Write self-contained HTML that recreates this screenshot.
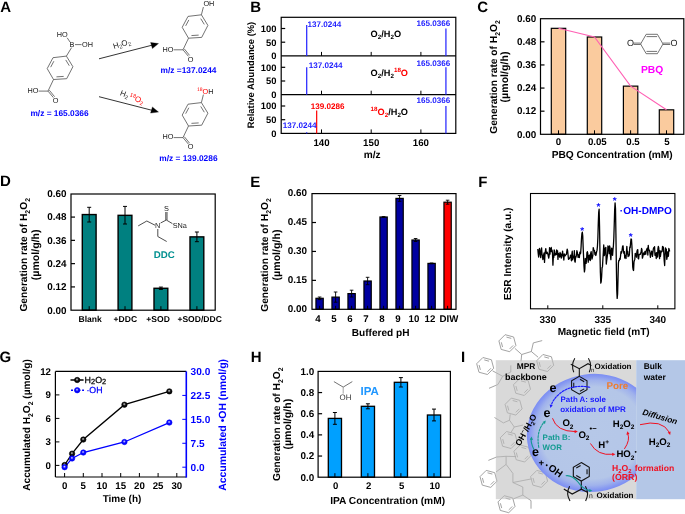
<!DOCTYPE html>
<html><head><meta charset="utf-8"><style>
html,body{margin:0;padding:0;background:#fff;}
svg{display:block;will-change:transform;}
text{font-family:"Liberation Sans", sans-serif;text-rendering:geometricPrecision;}
</style></head><body>
<svg width="685" height="514" viewBox="0 0 685 514" font-family='"Liberation Sans", sans-serif'>
<rect width="685" height="514" fill="#fff"/>
<defs><radialGradient id="gb" cx="0.5" cy="0.45" r="0.55" fx="0.45" fy="0.38"><stop offset="0" stop-color="#e8e8e8"/><stop offset="0.22" stop-color="#808080"/><stop offset="0.5" stop-color="#111"/><stop offset="1" stop-color="#000"/></radialGradient><radialGradient id="gbl" cx="0.5" cy="0.45" r="0.55" fx="0.45" fy="0.38"><stop offset="0" stop-color="#e8e8ff"/><stop offset="0.22" stop-color="#8080ff"/><stop offset="0.5" stop-color="#0c0cff"/><stop offset="1" stop-color="#0000f0"/></radialGradient><radialGradient id="rgI" cx="0.5" cy="0.5" r="0.5"><stop offset="0" stop-color="#b6c8e8"/><stop offset="0.78" stop-color="#b4c6e8"/><stop offset="0.89" stop-color="#a0b2ec"/><stop offset="0.96" stop-color="#8799f1"/><stop offset="1" stop-color="#7b8df4"/></radialGradient><clipPath id="clipI"><rect x="495.8" y="360.2" width="140.4" height="139.0"/></clipPath><clipPath id="clipE"><rect x="0" y="0" width="458.5" height="514"/></clipPath></defs>
<text transform="translate(0.20 12.20) scale(1 1.0)" font-size="15" font-weight="bold" fill="#000" text-anchor="start" >A</text>
<path d="M66.40,56.10 L72.90,66.70 L66.70,78.70 L53.50,79.50 L47.20,68.60 L53.00,57.70 Z" stroke="#444" stroke-width="0.75" fill="none" />
<line x1="65.74" y1="59.93" x2="69.29" y2="65.72" stroke="#444" stroke-width="0.75" />
<line x1="63.67" y1="76.41" x2="56.46" y2="76.85" stroke="#444" stroke-width="0.75" />
<line x1="50.68" y1="67.17" x2="53.85" y2="61.22" stroke="#444" stroke-width="0.75" />
<line x1="53.50" y1="79.50" x2="48.00" y2="91.10" stroke="#444" stroke-width="0.75" />
<line x1="48.00" y1="91.10" x2="38.60" y2="91.10" stroke="#444" stroke-width="0.75" />
<text transform="translate(27.60 92.80) scale(1 1.0)" font-size="7.3" font-weight="normal" fill="#222" text-anchor="start" >HO</text>
<line x1="48.00" y1="91.10" x2="53.40" y2="97.60" stroke="#444" stroke-width="0.75" />
<line x1="49.30" y1="90.20" x2="54.60" y2="96.70" stroke="#444" stroke-width="0.75" />
<text transform="translate(52.80 102.90) scale(1 1.0)" font-size="7.3" font-weight="normal" fill="#222" text-anchor="start" >O</text>
<line x1="66.40" y1="56.10" x2="71.60" y2="47.60" stroke="#444" stroke-width="0.75" />
<text transform="translate(69.40 47.30) scale(1 1.0)" font-size="7.3" font-weight="normal" fill="#222" text-anchor="start" >B</text>
<line x1="70.00" y1="42.00" x2="67.20" y2="37.80" stroke="#444" stroke-width="0.75" />
<text transform="translate(56.80 36.90) scale(1 1.0)" font-size="7.3" font-weight="normal" fill="#222" text-anchor="start" >HO</text>
<line x1="75.00" y1="44.60" x2="81.60" y2="44.60" stroke="#444" stroke-width="0.75" />
<text transform="translate(82.00 47.30) scale(1 1.0)" font-size="7.3" font-weight="normal" fill="#222" text-anchor="start" >OH</text>
<text transform="translate(30.40 116.00) scale(1 1.0)" font-size="8.35" font-weight="bold" fill="#00f" text-anchor="start" >m/z = 165.0366</text>
<path d="M201.40,14.80 L207.90,25.40 L201.70,37.40 L188.50,38.20 L182.20,27.30 L188.00,16.40 Z" stroke="#444" stroke-width="0.75" fill="none" />
<line x1="200.74" y1="18.63" x2="204.29" y2="24.42" stroke="#444" stroke-width="0.75" />
<line x1="198.67" y1="35.11" x2="191.46" y2="35.55" stroke="#444" stroke-width="0.75" />
<line x1="185.68" y1="25.87" x2="188.85" y2="19.92" stroke="#444" stroke-width="0.75" />
<line x1="188.50" y1="38.20" x2="183.00" y2="49.80" stroke="#444" stroke-width="0.75" />
<line x1="183.00" y1="49.80" x2="173.60" y2="49.80" stroke="#444" stroke-width="0.75" />
<text transform="translate(162.60 51.50) scale(1 1.0)" font-size="7.3" font-weight="normal" fill="#222" text-anchor="start" >HO</text>
<line x1="183.00" y1="49.80" x2="188.40" y2="56.30" stroke="#444" stroke-width="0.75" />
<line x1="184.30" y1="48.90" x2="189.60" y2="55.40" stroke="#444" stroke-width="0.75" />
<text transform="translate(187.80 61.60) scale(1 1.0)" font-size="7.3" font-weight="normal" fill="#222" text-anchor="start" >O</text>
<line x1="201.40" y1="14.80" x2="203.40" y2="7.00" stroke="#444" stroke-width="0.75" />
<text transform="translate(203.40 5.60) scale(1 1.0)" font-size="7.3" font-weight="normal" fill="#222" text-anchor="start" >OH</text>
<text transform="translate(160.60 72.90) scale(1 1.0)" font-size="8.35" font-weight="bold" fill="#00f" text-anchor="start" >m/z =137.0244</text>
<path d="M201.40,102.60 L207.90,113.20 L201.70,125.20 L188.50,126.00 L182.20,115.10 L188.00,104.20 Z" stroke="#444" stroke-width="0.75" fill="none" />
<line x1="200.74" y1="106.43" x2="204.29" y2="112.22" stroke="#444" stroke-width="0.75" />
<line x1="198.67" y1="122.91" x2="191.46" y2="123.35" stroke="#444" stroke-width="0.75" />
<line x1="185.68" y1="113.67" x2="188.85" y2="107.72" stroke="#444" stroke-width="0.75" />
<line x1="188.50" y1="126.00" x2="183.00" y2="137.60" stroke="#444" stroke-width="0.75" />
<line x1="183.00" y1="137.60" x2="173.60" y2="137.60" stroke="#444" stroke-width="0.75" />
<text transform="translate(162.60 139.30) scale(1 1.0)" font-size="7.3" font-weight="normal" fill="#222" text-anchor="start" >HO</text>
<line x1="183.00" y1="137.60" x2="188.40" y2="144.10" stroke="#444" stroke-width="0.75" />
<line x1="184.30" y1="136.70" x2="189.60" y2="143.20" stroke="#444" stroke-width="0.75" />
<text transform="translate(187.80 149.40) scale(1 1.0)" font-size="7.3" font-weight="normal" fill="#222" text-anchor="start" >O</text>
<line x1="201.40" y1="102.60" x2="203.40" y2="94.60" stroke="#444" stroke-width="0.75" />
<text x="196.9" y="93.9" font-size="7.3" fill="#222" font-family='"Liberation Sans", sans-serif'><tspan fill="#f00" font-size="5" dy="-3">18</tspan><tspan fill="#f00" dy="3">O</tspan><tspan>H</tspan></text>
<text transform="translate(159.30 161.00) scale(1 1.0)" font-size="8.35" font-weight="bold" fill="#00f" text-anchor="start" >m/z = 139.0286</text>
<line x1="99.00" y1="58.80" x2="152.00" y2="45.20" stroke="#000" stroke-width="0.8" />
<path d="M158.5,43.6 L150.6,42.4 L152.4,48.6 Z" stroke="#000" stroke-width="0.3" fill="#000" />
<line x1="99.00" y1="96.70" x2="152.00" y2="110.30" stroke="#000" stroke-width="0.8" />
<path d="M158.5,112.0 L152.4,106.9 L150.6,113.1 Z" stroke="#000" stroke-width="0.3" fill="#000" />
<text transform="translate(114.0,49.0) rotate(-17)" font-size="7.9" fill="#222">H<tspan font-size="5.4" dy="1.6">2</tspan><tspan dy="-1.6">O</tspan><tspan font-size="5.4" dy="1.6">2</tspan></text>
<text transform="translate(119.4,95.0) rotate(21)" font-size="7.9" fill="#222">H<tspan font-size="5.4" dy="1.6">2</tspan><tspan dy="-1.6" font-size="4"> </tspan><tspan font-size="5.4" dy="-2.8" fill="#f00">18</tspan><tspan dy="2.8" fill="#f00">O</tspan><tspan font-size="5.4" dy="1.6" fill="#f00">2</tspan></text>
<text transform="translate(250.20 11.70) scale(1 1.0)" font-size="15" font-weight="bold" fill="#000" text-anchor="start" >B</text>
<rect x="281.20" y="17.30" width="174.60" height="116.10" fill="none" stroke="#000" stroke-width="1.2" />
<line x1="281.20" y1="55.90" x2="455.80" y2="55.90" stroke="#000" stroke-width="1.2" />
<line x1="281.20" y1="94.70" x2="455.80" y2="94.70" stroke="#000" stroke-width="1.2" />
<text transform="translate(276.40 59.30) scale(1 1.0)" font-size="9.4" font-weight="bold" fill="#000" text-anchor="end" >0</text>
<line x1="281.20" y1="42.20" x2="285.20" y2="42.20" stroke="#000" stroke-width="1.2" />
<text transform="translate(276.40 45.60) scale(1 1.0)" font-size="9.4" font-weight="bold" fill="#000" text-anchor="end" >50</text>
<line x1="281.20" y1="28.50" x2="285.20" y2="28.50" stroke="#000" stroke-width="1.2" />
<text transform="translate(276.40 31.90) scale(1 1.0)" font-size="9.4" font-weight="bold" fill="#000" text-anchor="end" >100</text>
<line x1="321.50" y1="55.90" x2="321.50" y2="51.90" stroke="#000" stroke-width="1.0" />
<line x1="371.20" y1="55.90" x2="371.20" y2="51.90" stroke="#000" stroke-width="1.0" />
<line x1="420.90" y1="55.90" x2="420.90" y2="51.90" stroke="#000" stroke-width="1.0" />
<text transform="translate(276.40 98.10) scale(1 1.0)" font-size="9.4" font-weight="bold" fill="#000" text-anchor="end" >0</text>
<line x1="281.20" y1="81.00" x2="285.20" y2="81.00" stroke="#000" stroke-width="1.2" />
<text transform="translate(276.40 84.40) scale(1 1.0)" font-size="9.4" font-weight="bold" fill="#000" text-anchor="end" >50</text>
<line x1="281.20" y1="67.30" x2="285.20" y2="67.30" stroke="#000" stroke-width="1.2" />
<text transform="translate(276.40 70.70) scale(1 1.0)" font-size="9.4" font-weight="bold" fill="#000" text-anchor="end" >100</text>
<line x1="321.50" y1="94.70" x2="321.50" y2="90.70" stroke="#000" stroke-width="1.0" />
<line x1="371.20" y1="94.70" x2="371.20" y2="90.70" stroke="#000" stroke-width="1.0" />
<line x1="420.90" y1="94.70" x2="420.90" y2="90.70" stroke="#000" stroke-width="1.0" />
<text transform="translate(276.40 136.80) scale(1 1.0)" font-size="9.4" font-weight="bold" fill="#000" text-anchor="end" >0</text>
<line x1="281.20" y1="119.70" x2="285.20" y2="119.70" stroke="#000" stroke-width="1.2" />
<text transform="translate(276.40 123.10) scale(1 1.0)" font-size="9.4" font-weight="bold" fill="#000" text-anchor="end" >50</text>
<line x1="281.20" y1="106.00" x2="285.20" y2="106.00" stroke="#000" stroke-width="1.2" />
<text transform="translate(276.40 109.40) scale(1 1.0)" font-size="9.4" font-weight="bold" fill="#000" text-anchor="end" >100</text>
<line x1="321.50" y1="133.40" x2="321.50" y2="129.40" stroke="#000" stroke-width="1.0" />
<line x1="371.20" y1="133.40" x2="371.20" y2="129.40" stroke="#000" stroke-width="1.0" />
<line x1="420.90" y1="133.40" x2="420.90" y2="129.40" stroke="#000" stroke-width="1.0" />
<text transform="translate(321.50 146.20) scale(1 1.0)" font-size="9.7" font-weight="bold" fill="#000" text-anchor="middle" >140</text>
<text transform="translate(371.20 146.20) scale(1 1.0)" font-size="9.7" font-weight="bold" fill="#000" text-anchor="middle" >150</text>
<text transform="translate(420.90 146.20) scale(1 1.0)" font-size="9.7" font-weight="bold" fill="#000" text-anchor="middle" >160</text>
<text transform="translate(372.20 158.30) scale(1 1.0)" font-size="10.1" font-weight="bold" fill="#000" text-anchor="middle" >m/z</text>
<text transform="translate(253.60 75.00) rotate(-90) scale(1 1.0)" font-size="9.4" font-weight="bold" fill="#000" text-anchor="middle" >Relative Abundance (%)</text>
<line x1="306.71" y1="55.90" x2="306.71" y2="25.00" stroke="#1f1fff" stroke-width="1.2" />
<line x1="306.71" y1="94.70" x2="306.71" y2="67.30" stroke="#1f1fff" stroke-width="1.2" />
<line x1="306.71" y1="133.40" x2="306.71" y2="132.30" stroke="#1f1fff" stroke-width="1.2" />
<line x1="316.67" y1="133.40" x2="316.67" y2="110.38" stroke="#f00" stroke-width="1.2" />
<line x1="445.93" y1="55.90" x2="445.93" y2="28.50" stroke="#1f1fff" stroke-width="1.2" />
<line x1="445.93" y1="94.70" x2="445.93" y2="67.30" stroke="#1f1fff" stroke-width="1.2" />
<line x1="445.93" y1="133.40" x2="445.93" y2="106.00" stroke="#1f1fff" stroke-width="1.2" />
<text transform="translate(307.40 26.60) scale(1 1.0)" font-size="8.1" font-weight="bold" fill="#1f1fff" text-anchor="start" >137.0244</text>
<text transform="translate(308.70 67.60) scale(1 1.0)" font-size="8.1" font-weight="bold" fill="#1f1fff" text-anchor="start" >137.0244</text>
<text transform="translate(282.80 128.10) scale(1 1.0)" font-size="8.1" font-weight="bold" fill="#1f1fff" text-anchor="start" >137.0244</text>
<text transform="translate(416.50 26.10) scale(1 1.0)" font-size="8.1" font-weight="bold" fill="#1f1fff" text-anchor="start" >165.0366</text>
<text transform="translate(416.50 65.90) scale(1 1.0)" font-size="8.1" font-weight="bold" fill="#1f1fff" text-anchor="start" >165.0366</text>
<text transform="translate(416.50 102.60) scale(1 1.0)" font-size="8.1" font-weight="bold" fill="#1f1fff" text-anchor="start" >165.0366</text>
<text transform="translate(310.80 108.80) scale(1 1.0)" font-size="8.1" font-weight="bold" fill="#f00" text-anchor="start" >139.0286</text>
<text transform="translate(370.60 36.90) scale(1 1.0)" font-size="9.2" font-weight="bold" fill="#000" text-anchor="start" >O<tspan font-size="6.26" dy="2.30">2</tspan><tspan dy="-2.30">​</tspan>/H<tspan font-size="6.26" dy="2.30">2</tspan><tspan dy="-2.30">​</tspan>O</text>
<text transform="translate(370.60 75.70) scale(1 1.0)" font-size="9.2" font-weight="bold" fill="#000" text-anchor="start" >O<tspan font-size="6.26" dy="2.30">2</tspan><tspan dy="-2.30">​</tspan>/H<tspan font-size="6.26" dy="2.30">2</tspan><tspan dy="-2.30">​</tspan><tspan fill="#f00"><tspan font-size="6.26" dy="-3.50">18</tspan><tspan dy="3.50">​</tspan>O</tspan></text>
<text transform="translate(370.60 114.60) scale(1 1.0)" font-size="9.2" font-weight="bold" fill="#000" text-anchor="start" ><tspan fill="#f00"><tspan font-size="6.26" dy="-3.50">18</tspan><tspan dy="3.50">​</tspan>O<tspan font-size="6.26" dy="2.30">2</tspan><tspan dy="-2.30">​</tspan></tspan>/H<tspan font-size="6.26" dy="2.30">2</tspan><tspan dy="-2.30">​</tspan>O</text>
<text transform="translate(477.20 11.80) scale(1 1.0)" font-size="15" font-weight="bold" fill="#000" text-anchor="start" >C</text>
<rect x="551.30" y="28.33" width="14.40" height="105.97" fill="#facb9e" stroke="#000" stroke-width="1.2" />
<line x1="558.50" y1="134.30" x2="558.50" y2="130.30" stroke="#000" stroke-width="1.0" />
<rect x="587.30" y="37.00" width="14.40" height="97.30" fill="#facb9e" stroke="#000" stroke-width="1.2" />
<line x1="594.50" y1="134.30" x2="594.50" y2="130.30" stroke="#000" stroke-width="1.0" />
<rect x="623.40" y="86.13" width="14.40" height="48.17" fill="#facb9e" stroke="#000" stroke-width="1.2" />
<line x1="630.60" y1="134.30" x2="630.60" y2="130.30" stroke="#000" stroke-width="1.0" />
<rect x="659.30" y="109.83" width="14.40" height="24.47" fill="#facb9e" stroke="#000" stroke-width="1.2" />
<line x1="666.50" y1="134.30" x2="666.50" y2="130.30" stroke="#000" stroke-width="1.0" />
<rect x="540.50" y="18.70" width="143.30" height="115.60" fill="none" stroke="#000" stroke-width="1.2" />
<text transform="translate(536.20 137.60) scale(1 1.0)" font-size="9.9" font-weight="bold" fill="#000" text-anchor="end" >0.00</text>
<line x1="540.50" y1="111.18" x2="544.50" y2="111.18" stroke="#000" stroke-width="1.2" />
<text transform="translate(536.20 114.48) scale(1 1.0)" font-size="9.9" font-weight="bold" fill="#000" text-anchor="end" >0.12</text>
<line x1="540.50" y1="88.06" x2="544.50" y2="88.06" stroke="#000" stroke-width="1.2" />
<text transform="translate(536.20 91.36) scale(1 1.0)" font-size="9.9" font-weight="bold" fill="#000" text-anchor="end" >0.24</text>
<line x1="540.50" y1="64.94" x2="544.50" y2="64.94" stroke="#000" stroke-width="1.2" />
<text transform="translate(536.20 68.24) scale(1 1.0)" font-size="9.9" font-weight="bold" fill="#000" text-anchor="end" >0.36</text>
<line x1="540.50" y1="41.82" x2="544.50" y2="41.82" stroke="#000" stroke-width="1.2" />
<text transform="translate(536.20 45.12) scale(1 1.0)" font-size="9.9" font-weight="bold" fill="#000" text-anchor="end" >0.48</text>
<text transform="translate(536.20 22.00) scale(1 1.0)" font-size="9.9" font-weight="bold" fill="#000" text-anchor="end" >0.60</text>
<polyline points="558.5,28.3 594.5,37.0 630.6,86.1 666.5,109.8" fill="none" stroke="#ff60b4" stroke-width="1.1"/>
<text transform="translate(558.50 144.90) scale(1 1.0)" font-size="9.7" font-weight="bold" fill="#000" text-anchor="middle" >0</text>
<text transform="translate(597.30 144.90) scale(1 1.0)" font-size="9.7" font-weight="bold" fill="#000" text-anchor="middle" >0.05</text>
<text transform="translate(633.00 144.90) scale(1 1.0)" font-size="9.7" font-weight="bold" fill="#000" text-anchor="middle" >0.5</text>
<text transform="translate(666.90 144.90) scale(1 1.0)" font-size="9.7" font-weight="bold" fill="#000" text-anchor="middle" >5</text>
<text transform="translate(612.20 158.00) scale(1 1.0)" font-size="10.2" font-weight="bold" fill="#000" text-anchor="middle" >PBQ Concentration (mM)</text>
<text transform="translate(497.20 77.00) rotate(-90) scale(1 1.0)" font-size="10.2" font-weight="bold" fill="#000" text-anchor="middle" >Generation rate of H<tspan font-size="6.94" dy="2.55">2</tspan><tspan dy="-2.55">​</tspan>O<tspan font-size="6.94" dy="2.55">2</tspan><tspan dy="-2.55">​</tspan></text>
<text transform="translate(508.40 77.00) rotate(-90) scale(1 1.0)" font-size="10.6" font-weight="bold" fill="#000" text-anchor="middle" >(µmol/g/h)</text>
<path d="M663.00,44.00 L657.40,53.70 L646.20,53.70 L640.60,44.00 L646.20,34.30 L657.40,34.30 Z" stroke="#444" stroke-width="0.75" fill="none" />
<line x1="646.50" y1="36.60" x2="657.10" y2="36.60" stroke="#444" stroke-width="0.75" />
<line x1="646.50" y1="51.40" x2="657.10" y2="51.40" stroke="#444" stroke-width="0.75" />
<line x1="640.60" y1="43.10" x2="633.60" y2="43.10" stroke="#444" stroke-width="0.75" />
<line x1="640.60" y1="44.50" x2="633.60" y2="44.50" stroke="#444" stroke-width="0.75" />
<line x1="663.00" y1="43.10" x2="670.20" y2="43.10" stroke="#444" stroke-width="0.75" />
<line x1="663.00" y1="44.50" x2="670.20" y2="44.50" stroke="#444" stroke-width="0.75" />
<text transform="translate(627.00 46.40) scale(1 1.0)" font-size="9.0" font-weight="normal" fill="#222" text-anchor="start" >O</text>
<text transform="translate(670.40 46.40) scale(1 1.0)" font-size="9.0" font-weight="normal" fill="#222" text-anchor="start" >O</text>
<text transform="translate(641.00 72.80) scale(1 1.0)" font-size="10.3" font-weight="bold" fill="#f0f" text-anchor="start" >PBQ</text>
<text transform="translate(-0.10 186.40) scale(1 1.0)" font-size="15" font-weight="bold" fill="#000" text-anchor="start" >D</text>
<rect x="82.30" y="214.56" width="13.80" height="95.64" fill="#008080" stroke="#000" stroke-width="1.4" />
<line x1="89.20" y1="310.20" x2="89.20" y2="306.20" stroke="#000" stroke-width="1.0" />
<line x1="89.20" y1="207.30" x2="89.20" y2="222.00" stroke="#000" stroke-width="1.0" />
<line x1="87.20" y1="207.30" x2="91.20" y2="207.30" stroke="#000" stroke-width="1.0" />
<line x1="87.20" y1="222.00" x2="91.20" y2="222.00" stroke="#000" stroke-width="1.0" />
<rect x="118.10" y="215.33" width="13.80" height="94.87" fill="#008080" stroke="#000" stroke-width="1.4" />
<line x1="125.00" y1="310.20" x2="125.00" y2="306.20" stroke="#000" stroke-width="1.0" />
<line x1="125.00" y1="206.40" x2="125.00" y2="224.00" stroke="#000" stroke-width="1.0" />
<line x1="123.00" y1="206.40" x2="127.00" y2="206.40" stroke="#000" stroke-width="1.0" />
<line x1="123.00" y1="224.00" x2="127.00" y2="224.00" stroke="#000" stroke-width="1.0" />
<rect x="154.00" y="288.28" width="13.80" height="21.92" fill="#008080" stroke="#000" stroke-width="1.4" />
<line x1="160.90" y1="310.20" x2="160.90" y2="306.20" stroke="#000" stroke-width="1.0" />
<line x1="160.90" y1="287.10" x2="160.90" y2="289.40" stroke="#000" stroke-width="1.0" />
<line x1="158.90" y1="287.10" x2="162.90" y2="287.10" stroke="#000" stroke-width="1.0" />
<line x1="158.90" y1="289.40" x2="162.90" y2="289.40" stroke="#000" stroke-width="1.0" />
<rect x="190.00" y="236.87" width="13.80" height="73.33" fill="#008080" stroke="#000" stroke-width="1.4" />
<line x1="196.90" y1="310.20" x2="196.90" y2="306.20" stroke="#000" stroke-width="1.0" />
<line x1="196.90" y1="232.00" x2="196.90" y2="241.70" stroke="#000" stroke-width="1.0" />
<line x1="194.90" y1="232.00" x2="198.90" y2="232.00" stroke="#000" stroke-width="1.0" />
<line x1="194.90" y1="241.70" x2="198.90" y2="241.70" stroke="#000" stroke-width="1.0" />
<rect x="71.00" y="194.00" width="144.20" height="116.20" fill="none" stroke="#000" stroke-width="1.2" />
<text transform="translate(66.40 313.50) scale(1 1.0)" font-size="9.9" font-weight="bold" fill="#000" text-anchor="end" >0.00</text>
<line x1="71.00" y1="286.92" x2="75.00" y2="286.92" stroke="#000" stroke-width="1.2" />
<text transform="translate(66.40 290.22) scale(1 1.0)" font-size="9.9" font-weight="bold" fill="#000" text-anchor="end" >0.12</text>
<line x1="71.00" y1="263.64" x2="75.00" y2="263.64" stroke="#000" stroke-width="1.2" />
<text transform="translate(66.40 266.94) scale(1 1.0)" font-size="9.9" font-weight="bold" fill="#000" text-anchor="end" >0.24</text>
<line x1="71.00" y1="240.36" x2="75.00" y2="240.36" stroke="#000" stroke-width="1.2" />
<text transform="translate(66.40 243.66) scale(1 1.0)" font-size="9.9" font-weight="bold" fill="#000" text-anchor="end" >0.36</text>
<line x1="71.00" y1="217.08" x2="75.00" y2="217.08" stroke="#000" stroke-width="1.2" />
<text transform="translate(66.40 220.38) scale(1 1.0)" font-size="9.9" font-weight="bold" fill="#000" text-anchor="end" >0.48</text>
<text transform="translate(66.40 197.10) scale(1 1.0)" font-size="9.9" font-weight="bold" fill="#000" text-anchor="end" >0.60</text>
<text transform="translate(90.20 322.20) scale(1 1.0)" font-size="8.55" font-weight="bold" fill="#000" text-anchor="middle" >Blank</text>
<text transform="translate(125.30 322.20) scale(1 1.0)" font-size="8.55" font-weight="bold" fill="#000" text-anchor="middle" >+DDC</text>
<text transform="translate(158.10 322.20) scale(1 1.0)" font-size="8.55" font-weight="bold" fill="#000" text-anchor="middle" >+SOD</text>
<text transform="translate(199.60 322.20) scale(1 1.0)" font-size="8.55" font-weight="bold" fill="#000" text-anchor="middle" >+SOD/DDC</text>
<text transform="translate(27.30 254.80) rotate(-90) scale(1 1.0)" font-size="10.2" font-weight="bold" fill="#000" text-anchor="middle" >Generation rate of H<tspan font-size="6.94" dy="2.55">2</tspan><tspan dy="-2.55">​</tspan>O<tspan font-size="6.94" dy="2.55">2</tspan><tspan dy="-2.55">​</tspan></text>
<text transform="translate(38.60 254.80) rotate(-90) scale(1 1.0)" font-size="10.6" font-weight="bold" fill="#000" text-anchor="middle" >(µmol/g/h)</text>
<path d="M138.2,225.9 L146.8,221.0 L155.0,225.2" stroke="#3a3a3a" stroke-width="0.9" fill="none" />
<text transform="translate(154.90 228.30) scale(1 1.0)" font-size="7.3" font-weight="normal" fill="#222" text-anchor="start" >N</text>
<path d="M160.6,223.0 L166.3,220.0 L172.4,223.6" stroke="#3a3a3a" stroke-width="0.9" fill="none" />
<line x1="165.80" y1="220.00" x2="165.80" y2="212.00" stroke="#3a3a3a" stroke-width="0.9" />
<line x1="167.00" y1="220.00" x2="167.00" y2="212.00" stroke="#3a3a3a" stroke-width="0.9" />
<text transform="translate(163.90 211.30) scale(1 1.0)" font-size="7.3" font-weight="normal" fill="#222" text-anchor="start" >S</text>
<text transform="translate(172.70 228.30) scale(1 1.0)" font-size="7.3" font-weight="normal" fill="#222" text-anchor="start" >SNa</text>
<path d="M157.8,229.0 L157.8,236.5 L166.7,241.5" stroke="#3a3a3a" stroke-width="0.9" fill="none" />
<text transform="translate(153.80 258.30) scale(1 1.0)" font-size="9.7" font-weight="bold" fill="#009090" text-anchor="start" >DDC</text>
<text transform="translate(250.30 186.80) scale(1 1.0)" font-size="15" font-weight="bold" fill="#000" text-anchor="start" >E</text>
<rect x="315.95" y="298.30" width="7.30" height="11.00" fill="#0000a0" stroke="#000" stroke-width="1.2" />
<line x1="319.60" y1="309.30" x2="319.60" y2="305.80" stroke="#000" stroke-width="1.0" />
<line x1="319.60" y1="297.00" x2="319.60" y2="299.60" stroke="#000" stroke-width="0.9" />
<line x1="317.80" y1="297.00" x2="321.40" y2="297.00" stroke="#000" stroke-width="0.9" />
<line x1="317.80" y1="299.60" x2="321.40" y2="299.60" stroke="#000" stroke-width="0.9" />
<text transform="translate(317.90 321.50) scale(1 1.0)" font-size="9.7" font-weight="bold" fill="#000" text-anchor="middle" >4</text>
<rect x="331.95" y="297.10" width="7.30" height="12.20" fill="#0000a0" stroke="#000" stroke-width="1.2" />
<line x1="335.60" y1="309.30" x2="335.60" y2="305.80" stroke="#000" stroke-width="1.0" />
<line x1="335.60" y1="292.00" x2="335.60" y2="302.20" stroke="#000" stroke-width="0.9" />
<line x1="333.80" y1="292.00" x2="337.40" y2="292.00" stroke="#000" stroke-width="0.9" />
<line x1="333.80" y1="302.20" x2="337.40" y2="302.20" stroke="#000" stroke-width="0.9" />
<text transform="translate(333.90 321.50) scale(1 1.0)" font-size="9.7" font-weight="bold" fill="#000" text-anchor="middle" >5</text>
<rect x="347.95" y="293.60" width="7.30" height="15.70" fill="#0000a0" stroke="#000" stroke-width="1.2" />
<line x1="351.60" y1="309.30" x2="351.60" y2="305.80" stroke="#000" stroke-width="1.0" />
<line x1="351.60" y1="290.20" x2="351.60" y2="297.00" stroke="#000" stroke-width="0.9" />
<line x1="349.80" y1="290.20" x2="353.40" y2="290.20" stroke="#000" stroke-width="0.9" />
<line x1="349.80" y1="297.00" x2="353.40" y2="297.00" stroke="#000" stroke-width="0.9" />
<text transform="translate(349.90 321.50) scale(1 1.0)" font-size="9.7" font-weight="bold" fill="#000" text-anchor="middle" >6</text>
<rect x="363.95" y="281.00" width="7.30" height="28.30" fill="#0000a0" stroke="#000" stroke-width="1.2" />
<line x1="367.60" y1="309.30" x2="367.60" y2="305.80" stroke="#000" stroke-width="1.0" />
<line x1="367.60" y1="277.30" x2="367.60" y2="284.70" stroke="#000" stroke-width="0.9" />
<line x1="365.80" y1="277.30" x2="369.40" y2="277.30" stroke="#000" stroke-width="0.9" />
<line x1="365.80" y1="284.70" x2="369.40" y2="284.70" stroke="#000" stroke-width="0.9" />
<text transform="translate(365.90 321.50) scale(1 1.0)" font-size="9.7" font-weight="bold" fill="#000" text-anchor="middle" >7</text>
<rect x="379.95" y="217.00" width="7.30" height="92.30" fill="#0000a0" stroke="#000" stroke-width="1.2" />
<line x1="383.60" y1="309.30" x2="383.60" y2="305.80" stroke="#000" stroke-width="1.0" />
<line x1="383.60" y1="216.60" x2="383.60" y2="217.40" stroke="#000" stroke-width="0.9" />
<line x1="381.80" y1="216.60" x2="385.40" y2="216.60" stroke="#000" stroke-width="0.9" />
<line x1="381.80" y1="217.40" x2="385.40" y2="217.40" stroke="#000" stroke-width="0.9" />
<text transform="translate(381.90 321.50) scale(1 1.0)" font-size="9.7" font-weight="bold" fill="#000" text-anchor="middle" >8</text>
<rect x="395.95" y="198.40" width="7.30" height="110.90" fill="#0000a0" stroke="#000" stroke-width="1.2" />
<line x1="399.60" y1="309.30" x2="399.60" y2="305.80" stroke="#000" stroke-width="1.0" />
<line x1="399.60" y1="195.50" x2="399.60" y2="201.30" stroke="#000" stroke-width="0.9" />
<line x1="397.80" y1="195.50" x2="401.40" y2="195.50" stroke="#000" stroke-width="0.9" />
<line x1="397.80" y1="201.30" x2="401.40" y2="201.30" stroke="#000" stroke-width="0.9" />
<text transform="translate(397.90 321.50) scale(1 1.0)" font-size="9.7" font-weight="bold" fill="#000" text-anchor="middle" >9</text>
<rect x="411.95" y="240.00" width="7.30" height="69.30" fill="#0000a0" stroke="#000" stroke-width="1.2" />
<line x1="415.60" y1="309.30" x2="415.60" y2="305.80" stroke="#000" stroke-width="1.0" />
<line x1="415.60" y1="238.50" x2="415.60" y2="241.50" stroke="#000" stroke-width="0.9" />
<line x1="413.80" y1="238.50" x2="417.40" y2="238.50" stroke="#000" stroke-width="0.9" />
<line x1="413.80" y1="241.50" x2="417.40" y2="241.50" stroke="#000" stroke-width="0.9" />
<text transform="translate(413.90 321.50) scale(1 1.0)" font-size="9.7" font-weight="bold" fill="#000" text-anchor="middle" >10</text>
<rect x="427.95" y="263.40" width="7.30" height="45.90" fill="#0000a0" stroke="#000" stroke-width="1.2" />
<line x1="431.60" y1="309.30" x2="431.60" y2="305.80" stroke="#000" stroke-width="1.0" />
<line x1="431.60" y1="263.00" x2="431.60" y2="263.80" stroke="#000" stroke-width="0.9" />
<line x1="429.80" y1="263.00" x2="433.40" y2="263.00" stroke="#000" stroke-width="0.9" />
<line x1="429.80" y1="263.80" x2="433.40" y2="263.80" stroke="#000" stroke-width="0.9" />
<text transform="translate(429.90 321.50) scale(1 1.0)" font-size="9.7" font-weight="bold" fill="#000" text-anchor="middle" >12</text>
<rect x="443.95" y="202.20" width="7.30" height="107.10" fill="#f00" stroke="#000" stroke-width="1.2" />
<line x1="447.60" y1="309.30" x2="447.60" y2="305.80" stroke="#000" stroke-width="1.0" />
<line x1="447.60" y1="200.20" x2="447.60" y2="204.20" stroke="#000" stroke-width="0.9" />
<line x1="445.80" y1="200.20" x2="449.40" y2="200.20" stroke="#000" stroke-width="0.9" />
<line x1="445.80" y1="204.20" x2="449.40" y2="204.20" stroke="#000" stroke-width="0.9" />
<g clip-path="url(#clipE)">
<text transform="translate(439.60 321.50) scale(1 1.0)" font-size="9.7" font-weight="bold" fill="#000" text-anchor="start" >DIW</text>
</g>
<rect x="312.00" y="193.60" width="144.00" height="115.70" fill="none" stroke="#000" stroke-width="1.2" />
<text transform="translate(307.00 312.10) scale(1 1.0)" font-size="9.9" font-weight="bold" fill="#000" text-anchor="end" >0.00</text>
<line x1="312.00" y1="280.37" x2="316.00" y2="280.37" stroke="#000" stroke-width="1.2" />
<text transform="translate(307.00 283.17) scale(1 1.0)" font-size="9.9" font-weight="bold" fill="#000" text-anchor="end" >0.15</text>
<line x1="312.00" y1="251.44" x2="316.00" y2="251.44" stroke="#000" stroke-width="1.2" />
<text transform="translate(307.00 254.24) scale(1 1.0)" font-size="9.9" font-weight="bold" fill="#000" text-anchor="end" >0.30</text>
<line x1="312.00" y1="222.51" x2="316.00" y2="222.51" stroke="#000" stroke-width="1.2" />
<text transform="translate(307.00 225.31) scale(1 1.0)" font-size="9.9" font-weight="bold" fill="#000" text-anchor="end" >0.45</text>
<text transform="translate(307.00 196.38) scale(1 1.0)" font-size="9.9" font-weight="bold" fill="#000" text-anchor="end" >0.60</text>
<text transform="translate(380.60 335.60) scale(1 1.0)" font-size="10.1" font-weight="bold" fill="#000" text-anchor="middle" >Buffered pH</text>
<text transform="translate(268.40 255.00) rotate(-90) scale(1 1.0)" font-size="10.2" font-weight="bold" fill="#000" text-anchor="middle" >Generation rate of H<tspan font-size="6.94" dy="2.55">2</tspan><tspan dy="-2.55">​</tspan>O<tspan font-size="6.94" dy="2.55">2</tspan><tspan dy="-2.55">​</tspan></text>
<text transform="translate(280.00 255.00) rotate(-90) scale(1 1.0)" font-size="10.6" font-weight="bold" fill="#000" text-anchor="middle" >(µmol/g/h)</text>
<text transform="translate(478.30 186.80) scale(1 1.0)" font-size="15" font-weight="bold" fill="#000" text-anchor="start" >F</text>
<line x1="547.80" y1="308.80" x2="547.80" y2="305.30" stroke="#000" stroke-width="1.0" />
<text transform="translate(547.80 322.80) scale(1 1.0)" font-size="10.0" font-weight="bold" fill="#000" text-anchor="middle" >330</text>
<line x1="602.80" y1="308.80" x2="602.80" y2="305.30" stroke="#000" stroke-width="1.0" />
<text transform="translate(602.80 322.80) scale(1 1.0)" font-size="10.0" font-weight="bold" fill="#000" text-anchor="middle" >335</text>
<line x1="657.80" y1="308.80" x2="657.80" y2="305.30" stroke="#000" stroke-width="1.0" />
<text transform="translate(657.80 322.80) scale(1 1.0)" font-size="10.0" font-weight="bold" fill="#000" text-anchor="middle" >340</text>
<rect x="530.50" y="193.50" width="144.40" height="115.30" fill="none" stroke="#000" stroke-width="1.1" />
<text transform="translate(603.70 335.20) scale(1 1.0)" font-size="10.1" font-weight="bold" fill="#000" text-anchor="middle" >Magnetic field (mT)</text>
<text transform="translate(511.00 253.90) rotate(-90) scale(1 1.0)" font-size="10.2" font-weight="bold" fill="#000" text-anchor="middle" >ESR Intensity (a.u.)</text>
<path d="M537.80,248.99 L538.22,253.44 L538.64,256.99 L539.06,252.63 L539.48,248.38 L539.90,251.66 L540.32,254.60 L540.74,257.71 L541.16,250.32 L541.58,247.82 L542.00,254.27 L542.42,255.37 L542.84,259.51 L543.26,258.77 L543.68,254.64 L544.10,252.79 L544.52,262.47 L544.94,255.08 L545.36,251.08 L545.78,248.61 L546.20,252.31 L546.62,253.59 L547.04,252.22 L547.46,252.82 L547.88,254.21 L548.30,256.14 L548.72,258.17 L549.14,255.59 L549.56,247.61 L549.98,254.19 L550.40,248.53 L550.82,251.32 L551.24,247.47 L551.66,251.63 L552.08,250.07 L552.50,253.17 L552.92,265.21 L553.34,256.77 L553.76,257.44 L554.18,249.85 L554.60,251.30 L555.02,255.15 L555.44,253.59 L555.86,254.79 L556.28,254.19 L556.70,250.01 L557.12,254.41 L557.54,250.78 L557.96,259.35 L558.38,253.37 L558.80,255.86 L559.22,254.15 L559.64,257.05 L560.06,252.33 L560.48,256.67 L560.90,253.94 L561.32,258.11 L561.74,257.06 L562.16,255.01 L562.58,251.07 L563.00,255.47 L563.42,255.71 L563.84,260.00 L564.26,254.02 L564.68,255.58 L565.10,255.88 L565.52,255.16 L565.94,254.68 L566.36,254.44 L566.78,251.56 L567.20,249.20 L567.62,250.71 L568.04,254.72 L568.46,259.24 L568.88,258.67 L569.30,258.77 L569.72,257.81 L570.14,257.24 L570.56,255.21 L570.98,256.72 L571.40,260.78 L571.82,254.43 L572.24,251.21 L572.66,259.80 L573.08,256.20 L573.50,257.74 L573.92,257.85 L574.34,250.65 L574.76,261.33 L575.18,262.16 L575.60,256.66 L576.02,257.07 L576.44,254.95 L576.86,250.73 L577.28,252.22 L577.70,254.34 L578.12,257.41 L578.54,256.84 L578.96,254.54 L579.38,257.51 L579.80,252.22 L580.22,253.95 L580.64,253.25 L581.06,247.16 L581.48,238.83 L581.90,233.71 L582.32,232.19 L582.74,235.85 L583.16,247.28 L583.58,256.80 L584.00,266.57 L584.42,271.92 L584.84,269.17 L585.26,258.52 L585.68,260.03 L586.10,263.43 L586.52,260.01 L586.94,252.45 L587.36,251.69 L587.78,253.64 L588.20,262.25 L588.62,258.27 L589.04,255.28 L589.46,259.55 L589.88,254.96 L590.30,260.56 L590.72,253.08 L591.14,251.60 L591.56,255.45 L591.98,259.13 L592.40,257.46 L592.82,255.69 L593.24,247.61 L593.66,249.17 L594.08,250.03 L594.50,250.60 L594.92,254.51 L595.34,252.65 L595.76,255.47 L596.18,253.96 L596.60,251.81 L597.02,250.43 L597.44,246.29 L597.86,238.05 L598.28,223.61 L598.70,212.28 L599.12,209.03 L599.54,225.95 L599.96,253.31 L600.38,272.39 L600.80,283.21 L601.22,281.54 L601.64,276.33 L602.06,267.83 L602.48,266.66 L602.90,258.94 L603.32,252.66 L603.74,244.92 L604.16,255.63 L604.58,254.74 L605.00,248.10 L605.42,252.44 L605.84,247.35 L606.26,264.08 L606.68,260.63 L607.10,257.63 L607.52,254.04 L607.94,245.90 L608.36,250.70 L608.78,247.02 L609.20,253.62 L609.62,245.89 L610.04,247.99 L610.46,256.01 L610.88,259.68 L611.30,251.39 L611.72,248.07 L612.14,254.31 L612.56,255.38 L612.98,249.78 L613.40,245.83 L613.82,238.07 L614.24,224.51 L614.66,209.91 L615.08,202.80 L615.50,208.18 L615.92,234.07 L616.34,264.98 L616.76,290.05 L617.18,298.41 L617.60,294.05 L618.02,278.16 L618.44,262.80 L618.86,260.41 L619.28,260.52 L619.70,258.37 L620.12,259.43 L620.54,256.11 L620.96,251.69 L621.38,253.19 L621.80,252.00 L622.22,248.99 L622.64,245.99 L623.06,245.84 L623.48,251.11 L623.90,253.26 L624.32,251.65 L624.74,258.00 L625.16,255.41 L625.58,256.07 L626.00,258.48 L626.42,252.06 L626.84,246.33 L627.26,253.81 L627.68,251.35 L628.10,256.66 L628.52,255.10 L628.94,255.94 L629.36,254.59 L629.78,246.99 L630.20,247.60 L630.62,242.46 L631.04,238.94 L631.46,239.19 L631.88,245.38 L632.30,254.36 L632.72,266.83 L633.14,269.62 L633.56,270.52 L633.98,261.95 L634.40,260.35 L634.82,259.16 L635.24,253.38 L635.66,254.28 L636.08,254.44 L636.50,257.19 L636.92,251.67 L637.34,249.93 L637.76,249.63 L638.18,258.54 L638.60,258.86 L639.02,254.60 L639.44,254.57 L639.86,254.16 L640.28,254.36 L640.70,252.94 L641.12,252.06 L641.54,248.47 L641.96,249.61 L642.38,258.20 L642.80,256.77 L643.22,254.65 L643.64,253.00 L644.06,253.51 L644.48,254.70 L644.90,251.47 L645.32,253.53 L645.74,254.30 L646.16,250.98 L646.58,249.83 L647.00,248.73 L647.42,248.17 L647.84,255.04 L648.26,245.39 L648.68,250.04 L649.10,250.19 L649.52,250.21 L649.94,252.79 L650.36,257.28 L650.78,254.84 L651.20,253.33 L651.62,251.17 L652.04,252.27 L652.46,256.34 L652.88,252.86 L653.30,249.11 L653.72,247.56 L654.14,247.66 L654.56,246.68 L654.98,255.34 L655.40,255.26 L655.82,253.10 L656.24,258.57 L656.66,252.58 L657.08,255.87 L657.50,257.02 L657.92,248.92 L658.34,246.45 L658.76,247.98 L659.18,255.04 L659.60,258.56 L660.02,250.53 L660.44,256.31 L660.86,252.90 L661.28,251.83 L661.70,250.95 L662.12,251.50 L662.54,246.28 L662.96,247.66 L663.38,247.23 L663.80,253.31 L664.22,260.90 L664.64,265.48 L665.06,255.81 L665.48,247.93 L665.90,250.29 L666.32,249.09 L666.74,259.25 L667.16,257.21 L667.58,251.92 L668.00,256.32 L668.42,256.21 L668.84,248.39 L669.26,249.98 L669.68,251.51" stroke="#000" stroke-width="1.3" fill="none" stroke-linejoin="round"/>
<text transform="translate(582.10 234.00) scale(1 1.0)" font-size="10" font-weight="bold" fill="#00f" text-anchor="middle" >*</text>
<text transform="translate(598.50 210.00) scale(1 1.0)" font-size="10" font-weight="bold" fill="#00f" text-anchor="middle" >*</text>
<text transform="translate(614.70 203.80) scale(1 1.0)" font-size="10" font-weight="bold" fill="#00f" text-anchor="middle" >*</text>
<text transform="translate(630.80 239.90) scale(1 1.0)" font-size="10" font-weight="bold" fill="#00f" text-anchor="middle" >*</text>
<text transform="translate(619.80 214.10) scale(1 1.0)" font-size="10.1" font-weight="bold" fill="#00f" text-anchor="start" >·OH-DMPO</text>
<text transform="translate(-0.50 361.90) scale(1 1.0)" font-size="15" font-weight="bold" fill="#000" text-anchor="start" >G</text>
<line x1="55.40" y1="371.40" x2="186.30" y2="371.40" stroke="#000" stroke-width="1.2" />
<line x1="55.40" y1="371.40" x2="55.40" y2="477.00" stroke="#000" stroke-width="1.2" />
<line x1="55.40" y1="477.00" x2="186.30" y2="477.00" stroke="#000" stroke-width="1.2" />
<line x1="186.30" y1="371.40" x2="186.30" y2="477.60" stroke="#00f" stroke-width="1.6" />
<line x1="55.40" y1="465.40" x2="59.40" y2="465.40" stroke="#000" stroke-width="1.0" />
<text transform="translate(51.00 468.80) scale(1 1.0)" font-size="9.7" font-weight="bold" fill="#000" text-anchor="end" >0</text>
<line x1="55.40" y1="441.90" x2="59.40" y2="441.90" stroke="#000" stroke-width="1.0" />
<text transform="translate(51.00 445.30) scale(1 1.0)" font-size="9.7" font-weight="bold" fill="#000" text-anchor="end" >3</text>
<line x1="55.40" y1="418.40" x2="59.40" y2="418.40" stroke="#000" stroke-width="1.0" />
<text transform="translate(51.00 421.80) scale(1 1.0)" font-size="9.7" font-weight="bold" fill="#000" text-anchor="end" >6</text>
<line x1="55.40" y1="394.90" x2="59.40" y2="394.90" stroke="#000" stroke-width="1.0" />
<text transform="translate(51.00 398.30) scale(1 1.0)" font-size="9.7" font-weight="bold" fill="#000" text-anchor="end" >9</text>
<text transform="translate(51.00 374.80) scale(1 1.0)" font-size="9.7" font-weight="bold" fill="#000" text-anchor="end" >12</text>
<line x1="186.30" y1="467.20" x2="182.30" y2="467.20" stroke="#00f" stroke-width="1.0" />
<text transform="translate(190.60 470.70) scale(1 1.0)" font-size="10.1" font-weight="bold" fill="#00f" text-anchor="start" >0.0</text>
<line x1="186.30" y1="443.27" x2="182.30" y2="443.27" stroke="#00f" stroke-width="1.0" />
<text transform="translate(190.60 446.77) scale(1 1.0)" font-size="10.1" font-weight="bold" fill="#00f" text-anchor="start" >7.5</text>
<line x1="186.30" y1="419.35" x2="182.30" y2="419.35" stroke="#00f" stroke-width="1.0" />
<text transform="translate(190.60 422.85) scale(1 1.0)" font-size="10.1" font-weight="bold" fill="#00f" text-anchor="start" >15.0</text>
<line x1="186.30" y1="395.42" x2="182.30" y2="395.42" stroke="#00f" stroke-width="1.0" />
<text transform="translate(190.60 398.92) scale(1 1.0)" font-size="10.1" font-weight="bold" fill="#00f" text-anchor="start" >22.5</text>
<text transform="translate(190.60 375.00) scale(1 1.0)" font-size="10.1" font-weight="bold" fill="#00f" text-anchor="start" >30.0</text>
<line x1="64.60" y1="477.00" x2="64.60" y2="473.00" stroke="#000" stroke-width="1.0" />
<text transform="translate(64.60 488.60) scale(1 1.0)" font-size="9.7" font-weight="bold" fill="#000" text-anchor="middle" >0</text>
<line x1="83.30" y1="477.00" x2="83.30" y2="473.00" stroke="#000" stroke-width="1.0" />
<text transform="translate(83.30 488.60) scale(1 1.0)" font-size="9.7" font-weight="bold" fill="#000" text-anchor="middle" >5</text>
<line x1="102.00" y1="477.00" x2="102.00" y2="473.00" stroke="#000" stroke-width="1.0" />
<text transform="translate(102.00 488.60) scale(1 1.0)" font-size="9.7" font-weight="bold" fill="#000" text-anchor="middle" >10</text>
<line x1="120.70" y1="477.00" x2="120.70" y2="473.00" stroke="#000" stroke-width="1.0" />
<text transform="translate(120.70 488.60) scale(1 1.0)" font-size="9.7" font-weight="bold" fill="#000" text-anchor="middle" >15</text>
<line x1="139.40" y1="477.00" x2="139.40" y2="473.00" stroke="#000" stroke-width="1.0" />
<text transform="translate(139.40 488.60) scale(1 1.0)" font-size="9.7" font-weight="bold" fill="#000" text-anchor="middle" >20</text>
<line x1="158.10" y1="477.00" x2="158.10" y2="473.00" stroke="#000" stroke-width="1.0" />
<text transform="translate(158.10 488.60) scale(1 1.0)" font-size="9.7" font-weight="bold" fill="#000" text-anchor="middle" >25</text>
<line x1="176.80" y1="477.00" x2="176.80" y2="473.00" stroke="#000" stroke-width="1.0" />
<text transform="translate(176.80 488.60) scale(1 1.0)" font-size="9.7" font-weight="bold" fill="#000" text-anchor="middle" >30</text>
<text transform="translate(122.00 501.80) scale(1 1.0)" font-size="10.0" font-weight="bold" fill="#000" text-anchor="middle" >Time (h)</text>
<text transform="translate(30.20 424.90) rotate(-90) scale(1 1.0)" font-size="10.15" font-weight="bold" fill="#000" text-anchor="middle" >Accumulated H<tspan font-size="6.90" dy="2.54">2</tspan><tspan dy="-2.54">​</tspan>O<tspan font-size="6.90" dy="2.54">2</tspan><tspan dy="-2.54">​</tspan> (µmol/g)</text>
<text transform="translate(225.70 424.90) rotate(-90) scale(1 1.0)" font-size="10.45" font-weight="bold" fill="#00f" text-anchor="middle" >Accumulated •OH (nmol/g)</text>
<polyline points="64.60,465.01 72.08,453.65 83.30,439.55 124.44,404.69 169.32,391.38" fill="none" stroke="#000" stroke-width="1.3"/>
<polyline points="64.60,467.20 72.08,458.43 83.30,452.53 124.44,442.00 169.32,422.54" fill="none" stroke="#00f" stroke-width="1.3"/>
<circle cx="64.60" cy="465.01" r="2.7" fill="url(#gb)" stroke="#000" stroke-width="0.6"/>
<circle cx="72.08" cy="453.65" r="2.7" fill="url(#gb)" stroke="#000" stroke-width="0.6"/>
<circle cx="83.30" cy="439.55" r="2.7" fill="url(#gb)" stroke="#000" stroke-width="0.6"/>
<circle cx="124.44" cy="404.69" r="2.7" fill="url(#gb)" stroke="#000" stroke-width="0.6"/>
<circle cx="169.32" cy="391.38" r="2.7" fill="url(#gb)" stroke="#000" stroke-width="0.6"/>
<circle cx="64.60" cy="467.20" r="2.7" fill="url(#gbl)" stroke="#00f" stroke-width="0.6"/>
<circle cx="72.08" cy="458.43" r="2.7" fill="url(#gbl)" stroke="#00f" stroke-width="0.6"/>
<circle cx="83.30" cy="452.53" r="2.7" fill="url(#gbl)" stroke="#00f" stroke-width="0.6"/>
<circle cx="124.44" cy="442.00" r="2.7" fill="url(#gbl)" stroke="#00f" stroke-width="0.6"/>
<circle cx="169.32" cy="422.54" r="2.7" fill="url(#gbl)" stroke="#00f" stroke-width="0.6"/>
<line x1="70.50" y1="380.00" x2="83.60" y2="380.00" stroke="#000" stroke-width="1.5" />
<circle cx="77.2" cy="380.0" r="2.7" fill="url(#gb)" stroke="#000" stroke-width="0.6"/>
<text transform="translate(84.60 382.50) scale(1 1.0)" font-size="8.9" font-weight="normal" fill="#000" text-anchor="start" stroke="#000" stroke-width="0.25">H<tspan font-size="7.4" dy="1.3">2</tspan><tspan dy="-1.3">O</tspan><tspan font-size="7.4" dy="1.3">2</tspan></text>
<line x1="71.00" y1="390.20" x2="84.00" y2="390.20" stroke="#00f" stroke-width="1.5" stroke-dasharray="2.0,1.7"/>
<circle cx="77.2" cy="390.2" r="2.7" fill="url(#gbl)" stroke="#00f" stroke-width="0.6"/>
<text transform="translate(86.40 392.80) scale(1 1.0)" font-size="8.8" font-weight="normal" fill="#00f" text-anchor="start" stroke="#00f" stroke-width="0.25">·OH</text>
<text transform="translate(250.80 361.90) scale(1 1.0)" font-size="15" font-weight="bold" fill="#000" text-anchor="start" >H</text>
<rect x="328.30" y="418.40" width="13.20" height="58.80" fill="#00a0ff" stroke="#000" stroke-width="1.3" />
<line x1="334.90" y1="477.20" x2="334.90" y2="473.20" stroke="#000" stroke-width="1.0" />
<line x1="334.90" y1="412.50" x2="334.90" y2="424.30" stroke="#000" stroke-width="1.0" />
<line x1="332.90" y1="412.50" x2="336.90" y2="412.50" stroke="#000" stroke-width="1.0" />
<line x1="332.90" y1="424.30" x2="336.90" y2="424.30" stroke="#000" stroke-width="1.0" />
<rect x="361.30" y="406.30" width="13.20" height="70.90" fill="#00a0ff" stroke="#000" stroke-width="1.3" />
<line x1="367.90" y1="477.20" x2="367.90" y2="473.20" stroke="#000" stroke-width="1.0" />
<line x1="367.90" y1="403.80" x2="367.90" y2="408.80" stroke="#000" stroke-width="1.0" />
<line x1="365.90" y1="403.80" x2="369.90" y2="403.80" stroke="#000" stroke-width="1.0" />
<line x1="365.90" y1="408.80" x2="369.90" y2="408.80" stroke="#000" stroke-width="1.0" />
<rect x="394.30" y="382.30" width="13.20" height="94.90" fill="#00a0ff" stroke="#000" stroke-width="1.3" />
<line x1="400.90" y1="477.20" x2="400.90" y2="473.20" stroke="#000" stroke-width="1.0" />
<line x1="400.90" y1="377.60" x2="400.90" y2="387.00" stroke="#000" stroke-width="1.0" />
<line x1="398.90" y1="377.60" x2="402.90" y2="377.60" stroke="#000" stroke-width="1.0" />
<line x1="398.90" y1="387.00" x2="402.90" y2="387.00" stroke="#000" stroke-width="1.0" />
<rect x="427.40" y="415.00" width="13.20" height="62.20" fill="#00a0ff" stroke="#000" stroke-width="1.3" />
<line x1="434.00" y1="477.20" x2="434.00" y2="473.20" stroke="#000" stroke-width="1.0" />
<line x1="434.00" y1="409.10" x2="434.00" y2="420.90" stroke="#000" stroke-width="1.0" />
<line x1="432.00" y1="409.10" x2="436.00" y2="409.10" stroke="#000" stroke-width="1.0" />
<line x1="432.00" y1="420.90" x2="436.00" y2="420.90" stroke="#000" stroke-width="1.0" />
<rect x="318.10" y="371.40" width="132.30" height="105.80" fill="none" stroke="#000" stroke-width="1.2" />
<text transform="translate(314.20 480.50) scale(1 1.0)" font-size="9.9" font-weight="bold" fill="#000" text-anchor="end" >0.0</text>
<line x1="318.10" y1="456.04" x2="322.10" y2="456.04" stroke="#000" stroke-width="1.2" />
<text transform="translate(314.20 459.34) scale(1 1.0)" font-size="9.9" font-weight="bold" fill="#000" text-anchor="end" >0.2</text>
<line x1="318.10" y1="434.88" x2="322.10" y2="434.88" stroke="#000" stroke-width="1.2" />
<text transform="translate(314.20 438.18) scale(1 1.0)" font-size="9.9" font-weight="bold" fill="#000" text-anchor="end" >0.4</text>
<line x1="318.10" y1="413.72" x2="322.10" y2="413.72" stroke="#000" stroke-width="1.2" />
<text transform="translate(314.20 417.02) scale(1 1.0)" font-size="9.9" font-weight="bold" fill="#000" text-anchor="end" >0.6</text>
<line x1="318.10" y1="392.56" x2="322.10" y2="392.56" stroke="#000" stroke-width="1.2" />
<text transform="translate(314.20 395.86) scale(1 1.0)" font-size="9.9" font-weight="bold" fill="#000" text-anchor="end" >0.8</text>
<text transform="translate(314.20 374.70) scale(1 1.0)" font-size="9.9" font-weight="bold" fill="#000" text-anchor="end" >1.0</text>
<text transform="translate(335.70 489.40) scale(1 1.0)" font-size="9.6" font-weight="bold" fill="#000" text-anchor="middle" >0</text>
<text transform="translate(368.70 489.40) scale(1 1.0)" font-size="9.6" font-weight="bold" fill="#000" text-anchor="middle" >2</text>
<text transform="translate(401.70 489.40) scale(1 1.0)" font-size="9.6" font-weight="bold" fill="#000" text-anchor="middle" >5</text>
<text transform="translate(434.80 489.40) scale(1 1.0)" font-size="9.6" font-weight="bold" fill="#000" text-anchor="middle" >10</text>
<text transform="translate(387.60 503.80) scale(1 1.0)" font-size="10.2" font-weight="bold" fill="#000" text-anchor="middle" >IPA Concentration (mM)</text>
<text transform="translate(280.00 424.20) rotate(-90) scale(1 1.0)" font-size="10.2" font-weight="bold" fill="#000" text-anchor="middle" >Generation rate of H<tspan font-size="6.94" dy="2.55">2</tspan><tspan dy="-2.55">​</tspan>O<tspan font-size="6.94" dy="2.55">2</tspan><tspan dy="-2.55">​</tspan></text>
<text transform="translate(291.30 424.20) rotate(-90) scale(1 1.0)" font-size="10.6" font-weight="bold" fill="#000" text-anchor="middle" >(µmol/g/h)</text>
<path d="M333.9,381.6 L343.2,387.1 L352.3,381.6" stroke="#444" stroke-width="0.75" fill="none" />
<line x1="343.20" y1="387.10" x2="343.20" y2="393.60" stroke="#888" stroke-width="0.75" />
<text transform="translate(339.60 399.90) scale(1 1.0)" font-size="7.9" font-weight="normal" fill="#333" text-anchor="start" >OH</text>
<text transform="translate(360.60 395.00) scale(1 1.0)" font-size="11.5" font-weight="bold" fill="#1e96ff" text-anchor="start" >IPA</text>
<text transform="translate(461.00 361.60) scale(1 1.0)" font-size="15" font-weight="bold" fill="#000" text-anchor="start" >I</text>
<path d="M515.90,345.48 L509.68,351.70 L501.18,349.42 L498.90,340.92 L505.12,334.70 L513.62,336.98 Z" stroke="#8c8c8c" stroke-width="0.8" fill="none" />
<line x1="513.14" y1="345.44" x2="509.64" y2="348.94" stroke="#8c8c8c" stroke-width="0.8" />
<line x1="502.59" y1="347.05" x2="501.31" y2="342.27" stroke="#8c8c8c" stroke-width="0.8" />
<line x1="506.47" y1="337.11" x2="511.25" y2="338.39" stroke="#8c8c8c" stroke-width="0.8" />
<path d="M493.70,368.28 L487.48,374.50 L478.98,372.22 L476.70,363.72 L482.92,357.50 L491.42,359.78 Z" stroke="#8c8c8c" stroke-width="0.8" fill="none" />
<line x1="490.94" y1="368.24" x2="487.44" y2="371.74" stroke="#8c8c8c" stroke-width="0.8" />
<line x1="480.39" y1="369.85" x2="479.11" y2="365.07" stroke="#8c8c8c" stroke-width="0.8" />
<line x1="484.27" y1="359.91" x2="489.05" y2="361.19" stroke="#8c8c8c" stroke-width="0.8" />
<path d="M553.70,365.28 L547.48,371.50 L538.98,369.22 L536.70,360.72 L542.92,354.50 L551.42,356.78 Z" stroke="#8c8c8c" stroke-width="0.8" fill="none" />
<line x1="550.94" y1="365.24" x2="547.44" y2="368.74" stroke="#8c8c8c" stroke-width="0.8" />
<line x1="540.39" y1="366.85" x2="539.11" y2="362.07" stroke="#8c8c8c" stroke-width="0.8" />
<line x1="544.27" y1="356.91" x2="549.05" y2="358.19" stroke="#8c8c8c" stroke-width="0.8" />
<path d="M530.50,389.28 L524.28,395.50 L515.78,393.22 L513.50,384.72 L519.72,378.50 L528.22,380.78 Z" stroke="#8c8c8c" stroke-width="0.8" fill="none" />
<line x1="527.74" y1="389.24" x2="524.24" y2="392.74" stroke="#8c8c8c" stroke-width="0.8" />
<line x1="517.19" y1="390.85" x2="515.91" y2="386.07" stroke="#8c8c8c" stroke-width="0.8" />
<line x1="521.07" y1="380.91" x2="525.85" y2="382.19" stroke="#8c8c8c" stroke-width="0.8" />
<path d="M522.10,408.88 L515.88,415.10 L507.38,412.82 L505.10,404.32 L511.32,398.10 L519.82,400.38 Z" stroke="#8c8c8c" stroke-width="0.8" fill="none" />
<line x1="519.34" y1="408.84" x2="515.84" y2="412.34" stroke="#8c8c8c" stroke-width="0.8" />
<line x1="508.79" y1="410.45" x2="507.51" y2="405.67" stroke="#8c8c8c" stroke-width="0.8" />
<line x1="512.67" y1="400.51" x2="517.45" y2="401.79" stroke="#8c8c8c" stroke-width="0.8" />
<path d="M517.30,442.28 L511.08,448.50 L502.58,446.22 L500.30,437.72 L506.52,431.50 L515.02,433.78 Z" stroke="#8c8c8c" stroke-width="0.8" fill="none" />
<line x1="514.54" y1="442.24" x2="511.04" y2="445.74" stroke="#8c8c8c" stroke-width="0.8" />
<line x1="503.99" y1="443.85" x2="502.71" y2="439.07" stroke="#8c8c8c" stroke-width="0.8" />
<line x1="507.87" y1="433.91" x2="512.65" y2="435.19" stroke="#8c8c8c" stroke-width="0.8" />
<path d="M530.90,455.78 L524.68,462.00 L516.18,459.72 L513.90,451.22 L520.12,445.00 L528.62,447.28 Z" stroke="#8c8c8c" stroke-width="0.8" fill="none" />
<line x1="528.14" y1="455.74" x2="524.64" y2="459.24" stroke="#8c8c8c" stroke-width="0.8" />
<line x1="517.59" y1="457.35" x2="516.31" y2="452.57" stroke="#8c8c8c" stroke-width="0.8" />
<line x1="521.47" y1="447.41" x2="526.25" y2="448.69" stroke="#8c8c8c" stroke-width="0.8" />
<path d="M497.00,481.18 L490.78,487.40 L482.28,485.12 L480.00,476.62 L486.22,470.40 L494.72,472.68 Z" stroke="#8c8c8c" stroke-width="0.8" fill="none" />
<line x1="494.24" y1="481.14" x2="490.74" y2="484.64" stroke="#8c8c8c" stroke-width="0.8" />
<line x1="483.69" y1="482.75" x2="482.41" y2="477.97" stroke="#8c8c8c" stroke-width="0.8" />
<line x1="487.57" y1="472.81" x2="492.35" y2="474.09" stroke="#8c8c8c" stroke-width="0.8" />
<path d="M547.60,481.18 L541.38,487.40 L532.88,485.12 L530.60,476.62 L536.82,470.40 L545.32,472.68 Z" stroke="#8c8c8c" stroke-width="0.8" fill="none" />
<line x1="544.84" y1="481.14" x2="541.34" y2="484.64" stroke="#8c8c8c" stroke-width="0.8" />
<line x1="534.29" y1="482.75" x2="533.01" y2="477.97" stroke="#8c8c8c" stroke-width="0.8" />
<line x1="538.17" y1="472.81" x2="542.95" y2="474.09" stroke="#8c8c8c" stroke-width="0.8" />
<path d="M515.00,506.48 L508.78,512.70 L500.28,510.42 L498.00,501.92 L504.22,495.70 L512.72,497.98 Z" stroke="#8c8c8c" stroke-width="0.8" fill="none" />
<line x1="512.24" y1="506.44" x2="508.74" y2="509.94" stroke="#8c8c8c" stroke-width="0.8" />
<line x1="501.69" y1="508.05" x2="500.41" y2="503.27" stroke="#8c8c8c" stroke-width="0.8" />
<line x1="505.57" y1="498.11" x2="510.35" y2="499.39" stroke="#8c8c8c" stroke-width="0.8" />
<path d="M514.9,348.4 L521.7,354.5 L531.3,351.5 L533.3,342.9 L542.2,340.6 M531.3,351.5 L538.1,357.2 M521.7,354.5 L521.0,361.3" stroke="#8c8c8c" stroke-width="0.8" fill="none" />
<path d="M492.5,370.8 L502.7,376.3 L497.9,384.5 L489.0,388.3 M502.7,376.3 L510.8,372.0 L510.8,365.4" stroke="#8c8c8c" stroke-width="0.8" fill="none" />
<path d="M510.2,414.4 L509.5,420.2 L503.4,422.9 L494.5,417.5 M509.5,420.2 L514.3,427.0 L523.1,425.0 M514.3,427.0 L510.8,432.8" stroke="#8c8c8c" stroke-width="0.8" fill="none" />
<path d="M516.0,456.6 L506.1,456.3 L496.6,457.0 L488.4,460.4 M506.1,456.3 L506.1,464.4 L496.0,472.0 M506.1,464.4 L512.9,473.4 L512.9,482.5 L522.8,487.0 L522.8,495.1 L531.0,500.6 L531.0,508.7 M522.8,495.1 L513.5,498.8 M512.9,482.5 L531.5,478.9" stroke="#8c8c8c" stroke-width="0.8" fill="none" />
<rect x="495.8" y="360.2" width="140.4" height="139.0" fill="#d9d9d9"/>
<g clip-path="url(#clipI)">
<path d="M515.90,345.48 L509.68,351.70 L501.18,349.42 L498.90,340.92 L505.12,334.70 L513.62,336.98 Z" stroke="#a9a9a9" stroke-width="0.8" fill="none" />
<line x1="513.14" y1="345.44" x2="509.64" y2="348.94" stroke="#a9a9a9" stroke-width="0.8" />
<line x1="502.59" y1="347.05" x2="501.31" y2="342.27" stroke="#a9a9a9" stroke-width="0.8" />
<line x1="506.47" y1="337.11" x2="511.25" y2="338.39" stroke="#a9a9a9" stroke-width="0.8" />
<path d="M493.70,368.28 L487.48,374.50 L478.98,372.22 L476.70,363.72 L482.92,357.50 L491.42,359.78 Z" stroke="#a9a9a9" stroke-width="0.8" fill="none" />
<line x1="490.94" y1="368.24" x2="487.44" y2="371.74" stroke="#a9a9a9" stroke-width="0.8" />
<line x1="480.39" y1="369.85" x2="479.11" y2="365.07" stroke="#a9a9a9" stroke-width="0.8" />
<line x1="484.27" y1="359.91" x2="489.05" y2="361.19" stroke="#a9a9a9" stroke-width="0.8" />
<path d="M553.70,365.28 L547.48,371.50 L538.98,369.22 L536.70,360.72 L542.92,354.50 L551.42,356.78 Z" stroke="#a9a9a9" stroke-width="0.8" fill="none" />
<line x1="550.94" y1="365.24" x2="547.44" y2="368.74" stroke="#a9a9a9" stroke-width="0.8" />
<line x1="540.39" y1="366.85" x2="539.11" y2="362.07" stroke="#a9a9a9" stroke-width="0.8" />
<line x1="544.27" y1="356.91" x2="549.05" y2="358.19" stroke="#a9a9a9" stroke-width="0.8" />
<path d="M530.50,389.28 L524.28,395.50 L515.78,393.22 L513.50,384.72 L519.72,378.50 L528.22,380.78 Z" stroke="#a9a9a9" stroke-width="0.8" fill="none" />
<line x1="527.74" y1="389.24" x2="524.24" y2="392.74" stroke="#a9a9a9" stroke-width="0.8" />
<line x1="517.19" y1="390.85" x2="515.91" y2="386.07" stroke="#a9a9a9" stroke-width="0.8" />
<line x1="521.07" y1="380.91" x2="525.85" y2="382.19" stroke="#a9a9a9" stroke-width="0.8" />
<path d="M522.10,408.88 L515.88,415.10 L507.38,412.82 L505.10,404.32 L511.32,398.10 L519.82,400.38 Z" stroke="#a9a9a9" stroke-width="0.8" fill="none" />
<line x1="519.34" y1="408.84" x2="515.84" y2="412.34" stroke="#a9a9a9" stroke-width="0.8" />
<line x1="508.79" y1="410.45" x2="507.51" y2="405.67" stroke="#a9a9a9" stroke-width="0.8" />
<line x1="512.67" y1="400.51" x2="517.45" y2="401.79" stroke="#a9a9a9" stroke-width="0.8" />
<path d="M517.30,442.28 L511.08,448.50 L502.58,446.22 L500.30,437.72 L506.52,431.50 L515.02,433.78 Z" stroke="#a9a9a9" stroke-width="0.8" fill="none" />
<line x1="514.54" y1="442.24" x2="511.04" y2="445.74" stroke="#a9a9a9" stroke-width="0.8" />
<line x1="503.99" y1="443.85" x2="502.71" y2="439.07" stroke="#a9a9a9" stroke-width="0.8" />
<line x1="507.87" y1="433.91" x2="512.65" y2="435.19" stroke="#a9a9a9" stroke-width="0.8" />
<path d="M530.90,455.78 L524.68,462.00 L516.18,459.72 L513.90,451.22 L520.12,445.00 L528.62,447.28 Z" stroke="#a9a9a9" stroke-width="0.8" fill="none" />
<line x1="528.14" y1="455.74" x2="524.64" y2="459.24" stroke="#a9a9a9" stroke-width="0.8" />
<line x1="517.59" y1="457.35" x2="516.31" y2="452.57" stroke="#a9a9a9" stroke-width="0.8" />
<line x1="521.47" y1="447.41" x2="526.25" y2="448.69" stroke="#a9a9a9" stroke-width="0.8" />
<path d="M497.00,481.18 L490.78,487.40 L482.28,485.12 L480.00,476.62 L486.22,470.40 L494.72,472.68 Z" stroke="#a9a9a9" stroke-width="0.8" fill="none" />
<line x1="494.24" y1="481.14" x2="490.74" y2="484.64" stroke="#a9a9a9" stroke-width="0.8" />
<line x1="483.69" y1="482.75" x2="482.41" y2="477.97" stroke="#a9a9a9" stroke-width="0.8" />
<line x1="487.57" y1="472.81" x2="492.35" y2="474.09" stroke="#a9a9a9" stroke-width="0.8" />
<path d="M547.60,481.18 L541.38,487.40 L532.88,485.12 L530.60,476.62 L536.82,470.40 L545.32,472.68 Z" stroke="#a9a9a9" stroke-width="0.8" fill="none" />
<line x1="544.84" y1="481.14" x2="541.34" y2="484.64" stroke="#a9a9a9" stroke-width="0.8" />
<line x1="534.29" y1="482.75" x2="533.01" y2="477.97" stroke="#a9a9a9" stroke-width="0.8" />
<line x1="538.17" y1="472.81" x2="542.95" y2="474.09" stroke="#a9a9a9" stroke-width="0.8" />
<path d="M515.00,506.48 L508.78,512.70 L500.28,510.42 L498.00,501.92 L504.22,495.70 L512.72,497.98 Z" stroke="#a9a9a9" stroke-width="0.8" fill="none" />
<line x1="512.24" y1="506.44" x2="508.74" y2="509.94" stroke="#a9a9a9" stroke-width="0.8" />
<line x1="501.69" y1="508.05" x2="500.41" y2="503.27" stroke="#a9a9a9" stroke-width="0.8" />
<line x1="505.57" y1="498.11" x2="510.35" y2="499.39" stroke="#a9a9a9" stroke-width="0.8" />
<path d="M514.9,348.4 L521.7,354.5 L531.3,351.5 L533.3,342.9 L542.2,340.6 M531.3,351.5 L538.1,357.2 M521.7,354.5 L521.0,361.3" stroke="#a9a9a9" stroke-width="0.8" fill="none" />
<path d="M492.5,370.8 L502.7,376.3 L497.9,384.5 L489.0,388.3 M502.7,376.3 L510.8,372.0 L510.8,365.4" stroke="#a9a9a9" stroke-width="0.8" fill="none" />
<path d="M510.2,414.4 L509.5,420.2 L503.4,422.9 L494.5,417.5 M509.5,420.2 L514.3,427.0 L523.1,425.0 M514.3,427.0 L510.8,432.8" stroke="#a9a9a9" stroke-width="0.8" fill="none" />
<path d="M516.0,456.6 L506.1,456.3 L496.6,457.0 L488.4,460.4 M506.1,456.3 L506.1,464.4 L496.0,472.0 M506.1,464.4 L512.9,473.4 L512.9,482.5 L522.8,487.0 L522.8,495.1 L531.0,500.6 L531.0,508.7 M522.8,495.1 L513.5,498.8 M512.9,482.5 L531.5,478.9" stroke="#a9a9a9" stroke-width="0.8" fill="none" />
</g>
<rect x="636.2" y="360.2" width="48.8" height="139.0" fill="#b4c7e7"/>
<g clip-path="url(#clipI)"><ellipse cx="592.4" cy="432.9" rx="65.7" ry="58.9" transform="rotate(-8.4 592.4 432.9)" fill="url(#rgI)"/></g>
<path d="M570.8,364.3 L579.3,368.6 L588.0,363.7 L591.4,365.6" stroke="#111" stroke-width="1.05" fill="none" />
<path d="M574.8,358.2 Q570.8,365.1 573.8,372.2" stroke="#111" stroke-width="1.05" fill="none" />
<path d="M588.4,358.2 Q592.4,365.1 589.2,372.2" stroke="#111" stroke-width="1.05" fill="none" />
<line x1="579.30" y1="368.60" x2="579.30" y2="376.40" stroke="#111" stroke-width="1.05" />
<path d="M579.30,376.40 L587.01,380.85 L587.01,389.75 L579.30,394.20 L571.59,389.75 L571.59,380.85 Z" stroke="#111" stroke-width="1.05" fill="none" />
<line x1="579.97" y1="379.28" x2="584.18" y2="381.71" stroke="#111" stroke-width="1.05" />
<line x1="584.18" y1="388.89" x2="579.97" y2="391.32" stroke="#111" stroke-width="1.05" />
<line x1="573.75" y1="387.74" x2="573.75" y2="382.86" stroke="#111" stroke-width="1.05" />
<text transform="translate(591.00 371.60) scale(1 1.0)" font-size="6.0" font-weight="normal" fill="#222" text-anchor="start" >n</text>
<text transform="translate(594.60 369.20) scale(1 1.0)" font-size="8.0" font-weight="bold" fill="#000" text-anchor="start" >Oxidation</text>
<path d="M581.30,462.60 L589.27,467.20 L589.27,476.40 L581.30,481.00 L573.33,476.40 L573.33,467.20 Z" stroke="#111" stroke-width="1.1" fill="none" />
<line x1="587.04" y1="469.28" x2="587.04" y2="474.32" stroke="#111" stroke-width="1.1" />
<line x1="580.61" y1="478.03" x2="576.25" y2="475.51" stroke="#111" stroke-width="1.1" />
<line x1="576.25" y1="468.09" x2="580.61" y2="465.57" stroke="#111" stroke-width="1.1" />
<line x1="581.30" y1="481.00" x2="581.30" y2="489.20" stroke="#111" stroke-width="1.1" />
<path d="M563.8,489.0 L572.2,494.0 L581.3,489.2 L588.0,492.6" stroke="#111" stroke-width="1.1" fill="none" />
<path d="M569.6,486.2 Q565.6,493.5 570.0,501.0" stroke="#111" stroke-width="1.1" fill="none" />
<path d="M585.4,486.2 Q589.6,493.5 585.6,501.0" stroke="#111" stroke-width="1.1" fill="none" />
<text transform="translate(589.00 498.20) scale(1 1.0)" font-size="6.8" font-weight="normal" fill="#222" text-anchor="start" >n</text>
<text transform="translate(596.60 497.60) scale(1 1.0)" font-size="8.0" font-weight="bold" fill="#000" text-anchor="start" >Oxidation</text>
<text transform="translate(516.80 369.40) scale(1 1.0)" font-size="8.4" font-weight="bold" fill="#000" text-anchor="start" >MPR</text>
<text transform="translate(505.00 380.00) scale(1 1.0)" font-size="8.95" font-weight="bold" fill="#000" text-anchor="start" >backbone</text>
<text transform="translate(643.70 369.10) scale(1 1.0)" font-size="8.35" font-weight="bold" fill="#000" text-anchor="start" >Bulk</text>
<text transform="translate(643.70 380.00) scale(1 1.0)" font-size="8.5" font-weight="bold" fill="#000" text-anchor="start" >water</text>
<text transform="translate(606.40 388.80) scale(1 1.0)" font-size="9.8" font-weight="bold" fill="#ed7d31" text-anchor="start" >Pore</text>
<text transform="translate(549.50 392.30) scale(1 1.0)" font-size="12.6" font-weight="bold" fill="#000" text-anchor="start" >e</text>
<text transform="translate(543.50 417.40) scale(1 1.0)" font-size="12.6" font-weight="bold" fill="#000" text-anchor="start" >e</text>
<text transform="translate(532.00 456.10) scale(1 1.0)" font-size="12.6" font-weight="bold" fill="#000" text-anchor="start" >e</text>
<text transform="translate(560.60 402.40) scale(1 1.0)" font-size="7.9" font-weight="bold" fill="#1a1aff" text-anchor="start" >Path A: sole</text>
<text transform="translate(560.20 411.60) scale(1 1.0)" font-size="8.05" font-weight="bold" fill="#1a1aff" text-anchor="start" >oxidation of MPR</text>
<text transform="translate(542.60 440.20) scale(1 1.0)" font-size="7.95" font-weight="bold" fill="#129a90" text-anchor="start" >Path B:</text>
<text transform="translate(542.60 449.60) scale(1 1.0)" font-size="7.9" font-weight="bold" fill="#129a90" text-anchor="start" >WOR</text>
<text transform="translate(562.40 426.20) scale(1 1.0)" font-size="9.6" font-weight="bold" fill="#000" text-anchor="start" >O<tspan font-size="6.53" dy="2.40">2</tspan><tspan dy="-2.40">​</tspan></text>
<text transform="translate(578.40 437.60) scale(1 1.0)" font-size="9.6" font-weight="bold" fill="#000" text-anchor="start" >O<tspan font-size="6.53" dy="2.40">2</tspan><tspan dy="-2.40">​</tspan><tspan font-size="7.6" dy="-6.6">•−</tspan></text>
<text transform="translate(598.20 448.00) scale(1 1.0)" font-size="9.6" font-weight="bold" fill="#000" text-anchor="start" >H<tspan font-size="6.53" dy="-3.65">+</tspan><tspan dy="3.65">​</tspan></text>
<text transform="translate(612.80 426.80) scale(1 1.0)" font-size="9.6" font-weight="bold" fill="#000" text-anchor="start" >H<tspan font-size="6.53" dy="2.40">2</tspan><tspan dy="-2.40">​</tspan>O<tspan font-size="6.53" dy="2.40">2</tspan><tspan dy="-2.40">​</tspan></text>
<text transform="translate(616.40 457.40) scale(1 1.0)" font-size="9.6" font-weight="bold" fill="#000" text-anchor="start" >HO<tspan font-size="6.53" dy="2.40">2</tspan><tspan dy="-2.40">​</tspan><tspan font-size="6.53" dy="-3.65">•</tspan><tspan dy="3.65">​</tspan></text>
<text transform="translate(648.80 444.60) scale(1 1.0)" font-size="9.6" font-weight="bold" fill="#000" text-anchor="start" >H<tspan font-size="6.53" dy="2.40">2</tspan><tspan dy="-2.40">​</tspan>O<tspan font-size="6.53" dy="2.40">2</tspan><tspan dy="-2.40">​</tspan></text>
<text transform="translate(612.00 470.60) scale(1 1.0)" font-size="8.6" font-weight="bold" fill="#f01020" text-anchor="start" >H<tspan font-size="5.85" dy="2.15">2</tspan><tspan dy="-2.15">​</tspan>O<tspan font-size="5.85" dy="2.15">2</tspan><tspan dy="-2.15">​</tspan><tspan dx="3.2">formation</tspan></text>
<text transform="translate(612.00 480.00) scale(1 1.0)" font-size="8.8" font-weight="bold" fill="#f01020" text-anchor="start" >(ORR)</text>
<text transform="translate(642.00 414.60) rotate(16) scale(1 1.0)" font-size="8.3" font-weight="bold" fill="#000" text-anchor="start" font-style="italic">Diffusion</text>
<text transform="translate(520.00 446.60) rotate(-61) scale(1 1.0)" font-size="8.6" font-weight="bold" fill="#000" text-anchor="start" >OH<tspan font-size="5.85" dy="-3.27">−</tspan><tspan dy="3.27">​</tspan>/H<tspan font-size="5.85" dy="2.15">2</tspan><tspan dy="-2.15">​</tspan>O</text>
<text transform="translate(538.40 465.60) scale(1 1.0)" font-size="9.6" font-weight="bold" fill="#000" text-anchor="start" >+</text>
<circle cx="546.7" cy="465.3" r="0.95" fill="#000"/>
<text transform="translate(547.40 469.20) rotate(35) scale(1 1.0)" font-size="10.0" font-weight="bold" fill="#000" text-anchor="start" >OH</text>
<path d="M552.6,418.6 Q556.5,431.5 575.0,431.6" stroke="#f01020" stroke-width="1.0" fill="none"  stroke-linecap="round"/>
<path d="M577.80,431.60 L574.60,433.20 L574.60,430.00 Z" fill="#f01020"/>
<path d="M590.6,443.8 Q597.5,456.0 612.5,454.3" stroke="#f01020" stroke-width="1.0" fill="none"  stroke-linecap="round"/>
<path d="M615.40,454.20 L612.29,455.97 L612.12,452.77 Z" fill="#f01020"/>
<path d="M624.6,448.6 Q630.5,440.0 627.8,433.8" stroke="#f01020" stroke-width="1.0" fill="none"  stroke-linecap="round"/>
<path d="M627.40,431.20 L629.53,434.07 L626.38,434.63 Z" fill="#f01020"/>
<path d="M640.4,424.6 Q662.0,419.0 669.2,432.0" stroke="#f01020" stroke-width="1.0" fill="none"  stroke-linecap="round"/>
<path d="M670.20,435.00 L667.60,432.54 L670.61,431.45 Z" fill="#f01020"/>
<path d="M589.8,387.2 Q572.0,384.0 560.5,393.0 Q553.0,399.0 551.4,405.0" stroke="#1a1aff" stroke-width="1.15" fill="none" stroke-dasharray="2,1.3" stroke-linecap="round"/>
<path d="M550.40,408.00 L549.68,404.49 L552.77,405.32 Z" fill="#1a1aff"/>
<path d="M538.8,447.4 Q536.0,432.0 543.5,423.0" stroke="#129a90" stroke-width="1.1" fill="none" stroke-dasharray="2,1.3" stroke-linecap="round"/>
<path d="M545.80,420.60 L544.97,424.08 L542.52,422.02 Z" fill="#129a90"/>
<path d="M533.8,449.2 Q530.6,443.0 531.3,438.4" stroke="#129a90" stroke-width="1.1" fill="none"  stroke-linecap="round"/>
<path d="M531.60,436.60 L532.92,439.93 L529.73,439.65 Z" fill="#129a90"/>
<path d="M566.1,475.7 Q572.0,475.0 578.0,482.0 Q583.0,489.5 590.0,490.6" stroke="#129a90" stroke-width="1.1" fill="none"  stroke-linecap="round"/>
<path d="M592.40,490.80 L589.07,492.12 L589.35,488.93 Z" fill="#129a90"/>
</svg>
</body></html>
